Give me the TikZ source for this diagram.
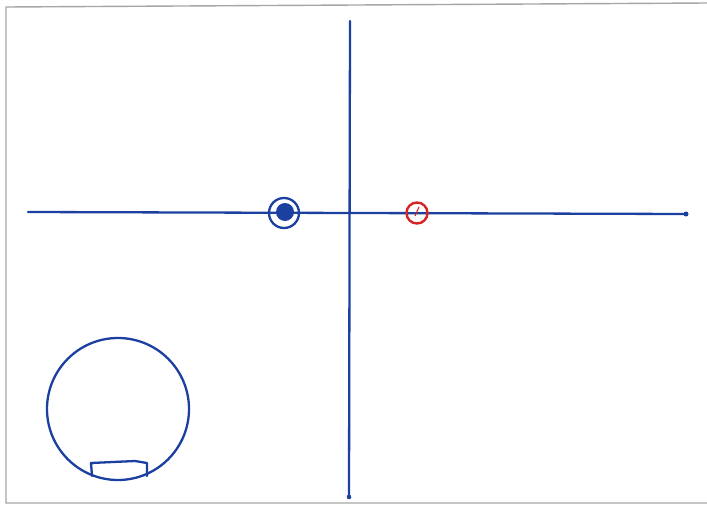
\documentclass[tikz,border=0pt]{standalone}
\begin{document}
\begin{tikzpicture}[x=1pt,y=-1pt,
  ink/.style={draw=inkblue,line width=2.3pt,line cap=round},
  ring/.style={circle,draw=inkblue,line width=2.3pt,inner sep=0pt},
  redring/.style={circle,draw=inkred,line width=2.4pt,inner sep=0pt},
  framel/.style={draw=gray!70,line width=1.4pt}]
\definecolor{inkblue}{RGB}{28,64,160}
\definecolor{inkred}{RGB}{215,35,35}
\useasboundingbox (0,0) rectangle (707,506);
\fill[white] (0,0) rectangle (707,506);
% frame
\coordinate (f1) at (707,3);
\coordinate (f2) at (6,7);
\coordinate (f3) at (6,503);
\coordinate (f4) at (707,503);
\draw[framel] (f1) -- (f2) -- (f3) -- (f4);
% axes
\coordinate (vt) at (350,21);
\coordinate (vb) at (349,497);
\coordinate (hl) at (28,212);
\coordinate (hr) at (686,214);
\draw[ink] (vt) -- (vb);
\draw[ink] (hl) -- (hr);
\fill[inkblue] (vb) circle (2.3pt);
\fill[inkblue] (hr) circle (2.5pt);
% blue ring with filled point
\node[ring,minimum size=30pt] (p) at (284,213) {};
\fill[inkblue] (p.center) ++(1,-1) circle (9pt);
% red ring
\node[redring,minimum size=21pt] (z) at (417,213) {};
\coordinate (t1) at (415,216);
\coordinate (t2) at (419,207);
\draw[draw=inkred,line width=1.1pt] (t1) -- (t2);
% big circle
\node[ring,minimum size=142pt] (big) at (118,409) {};
% small box at bottom
\coordinate (b1) at (92,476);
\coordinate (b2) at (91,463);
\coordinate (b3) at (135,461);
\coordinate (b4) at (147,463);
\coordinate (b5) at (147,476);
\draw[ink,line join=round] (b1) -- (b2) -- (b3) -- (b4) -- (b5);
\end{tikzpicture}
\end{document}
